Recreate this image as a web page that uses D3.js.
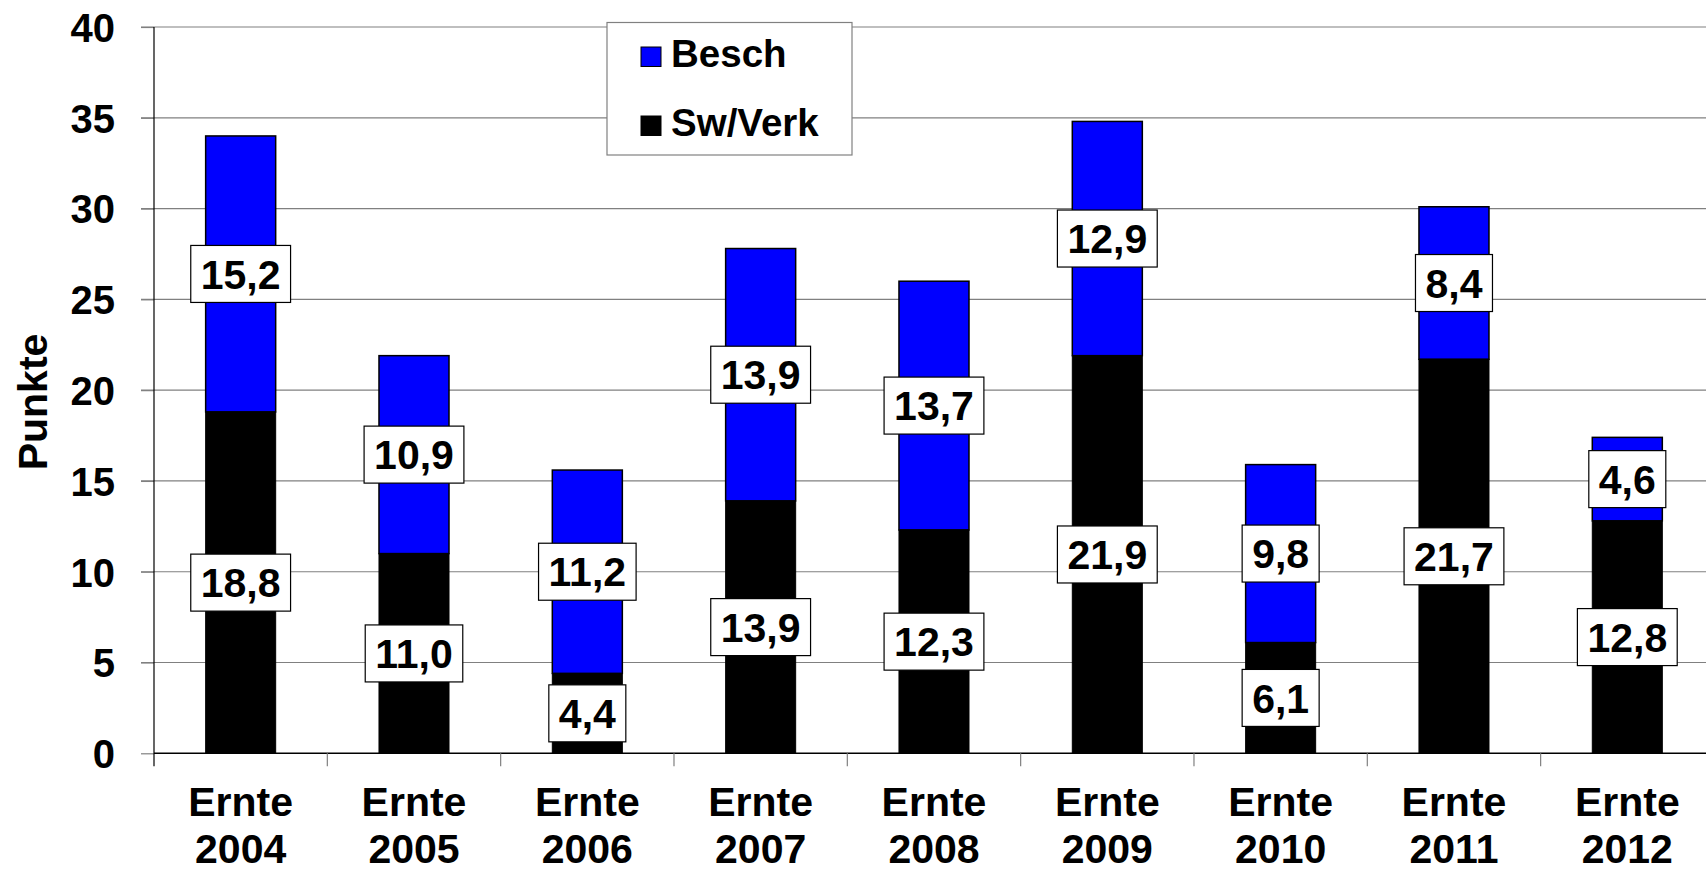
<!DOCTYPE html>
<html>
<head>
<meta charset="utf-8">
<script src="https://cdn.jsdelivr.net/npm/d3@7"></script>
<style>
  html, body { margin: 0; padding: 0; background: #fff; }
  svg { display: block; }
  text { font-family: "Liberation Sans", Arial, Helvetica, sans-serif; font-weight: bold; fill: #000; }
</style>
</head>
<body>
<svg id="chart" width="1706" height="872"></svg>
<script>
const years = ["2004", "2005", "2006", "2007", "2008", "2009", "2010", "2011", "2012"];
const categoryPrefix = "Ernte";
const swVerk = [18.8, 11.0, 4.4, 13.9, 12.3, 21.9, 6.1, 21.7, 12.8];
const besch = [15.2, 10.9, 11.2, 13.9, 13.7, 12.9, 9.8, 8.4, 4.6];
const yTicks = [0, 5, 10, 15, 20, 25, 30, 35, 40];
const seriesNames = ["Besch", "Sw/Verk"];
const seriesColors = ["#0000ff", "#000000"];
const yTitle = "Punkte";

(function () {
const svg = d3.select("#chart");
const W = 1706, H = 872;
const mLeft = 154, step = 173.33, mTop = 27, mBottom = 753.3;

const x = d3.scaleBand().domain(years)
  .range([mLeft, mLeft + step * years.length])
  .paddingInner(0.596).paddingOuter(0.298);
const y = d3.scaleLinear().domain([0, 40]).range([mBottom, mTop]);

const locale = d3.formatLocale({ decimal: ",", thousands: ".", grouping: [3], currency: ["", "€"] });
const fmt = locale.format(".1f");

// gridlines
svg.append("g").selectAll("line").data(yTicks.filter(d => d > 0)).join("line")
  .attr("x1", mLeft - 13).attr("x2", W)
  .attr("y1", d => y(d)).attr("y2", d => y(d))
  .attr("stroke", "#808080").attr("stroke-width", 1.2);

// y axis
const yAxis = d3.axisLeft(y).tickValues(yTicks).tickSize(13).tickPadding(26).tickFormat(d3.format("d"));
const gy = svg.append("g").attr("transform", `translate(${mLeft},0)`).call(yAxis);
gy.select(".domain").remove();
gy.selectAll(".tick line").attr("stroke", "#808080").attr("stroke-width", 1.2);
gy.selectAll(".tick text").attr("font-size", 40).attr("font-family", null).attr("dy", "0.36em");
svg.append("line").attr("x1", mLeft).attr("x2", mLeft).attr("y1", mTop).attr("y2", mBottom + 13)
  .attr("stroke", "#000").attr("stroke-width", 1.2);

// x axis baseline + boundary ticks
svg.append("line").attr("x1", mLeft).attr("x2", W).attr("y1", mBottom).attr("y2", mBottom)
  .attr("stroke", "#000").attr("stroke-width", 1.5);
svg.append("g").selectAll("line").data(d3.range(1, years.length + 1)).join("line")
  .attr("x1", i => mLeft + i * x.step()).attr("x2", i => mLeft + i * x.step())
  .attr("y1", mBottom).attr("y2", mBottom + 13)
  .attr("stroke", "#808080").attr("stroke-width", 1.2);

// category labels
const cat = svg.append("g").selectAll("text").data(years).join("text")
  .attr("x", d => x(d) + x.bandwidth() / 2)
  .attr("text-anchor", "middle").attr("font-size", 41);
cat.append("tspan").attr("x", d => x(d) + x.bandwidth() / 2).attr("y", 816).text(categoryPrefix);
cat.append("tspan").attr("x", d => x(d) + x.bandwidth() / 2).attr("y", 863).text(d => d);

// stacked bars
const rows = years.map((yr, i) => ({ year: yr, sw: swVerk[i], be: besch[i] }));
const bars = svg.append("g");
bars.selectAll("rect.be").data(rows).join("rect").attr("class", "be")
  .attr("x", d => x(d.year)).attr("width", x.bandwidth())
  .attr("y", d => y(d.sw + d.be)).attr("height", d => y(d.sw) - y(d.sw + d.be))
  .attr("fill", seriesColors[0]).attr("stroke", "#000").attr("stroke-width", 1.5);
bars.selectAll("rect.sw").data(rows).join("rect").attr("class", "sw")
  .attr("x", d => x(d.year)).attr("width", x.bandwidth())
  .attr("y", d => y(d.sw)).attr("height", d => y(0) - y(d.sw))
  .attr("fill", seriesColors[1]).attr("stroke", "#000").attr("stroke-width", 1);

// value labels
function addLabels(getMid, getVal) {
  const g = svg.append("g").selectAll("g").data(rows).join("g")
    .attr("transform", d => `translate(${x(d.year) + x.bandwidth() / 2},${y(getMid(d))})`);
  g.append("rect").attr("fill", "#fff").attr("stroke", "#000").attr("stroke-width", 1.2);
  const t = g.append("text").attr("text-anchor", "middle").attr("font-size", 41)
    .attr("dy", "0.36em").text(d => fmt(getVal(d)));
  t.each(function () {
    const w = this.getComputedTextLength() + 20;
    d3.select(this.parentNode).select("rect")
      .attr("x", -w / 2).attr("width", w).attr("y", -28.5).attr("height", 57);
  });
}
addLabels(d => d.sw / 2, d => d.sw);
addLabels(d => d.sw + d.be / 2, d => d.be);

// legend
const lg = svg.append("g");
lg.append("rect").attr("x", 607).attr("y", 22.5).attr("width", 245).attr("height", 132.5)
  .attr("fill", "#fff").attr("stroke", "#808080").attr("stroke-width", 1.2);
const li = lg.selectAll("g").data(seriesNames).join("g")
  .attr("transform", (d, i) => `translate(0,${i * 69})`);
li.append("rect").attr("x", 641).attr("y", 47).attr("width", 20).attr("height", 19.5)
  .attr("fill", (d, i) => seriesColors[i]).attr("stroke", "#000").attr("stroke-width", 1);
li.append("text").attr("x", 671).attr("y", 66.5).attr("font-size", 38.5).text(d => d);

// y title
svg.append("text").attr("transform", "translate(47,402) rotate(-90)")
  .attr("text-anchor", "middle").attr("font-size", 41).text(yTitle);
})();
</script>
</body>
</html>
